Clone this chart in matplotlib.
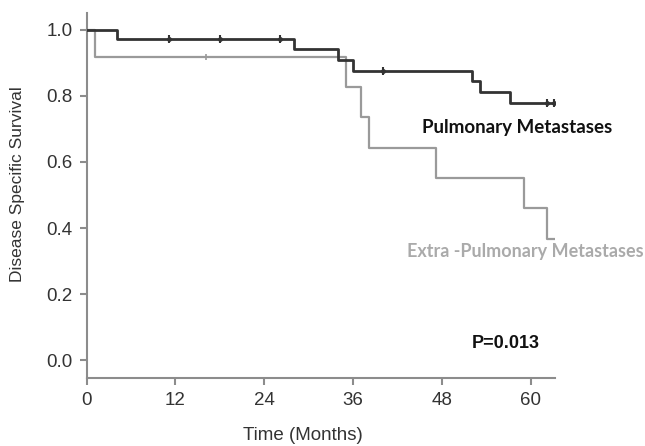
import numpy as np
import matplotlib
matplotlib.use("Agg")
import matplotlib.pyplot as plt

# Kaplan-Meier step data
pulm_times = [0, 4.05, 28.05, 34.0, 36.0, 52.1, 53.1, 57.2, 63.1]
pulm_surv = [1.0, 0.972, 0.942, 0.909, 0.877, 0.845, 0.813, 0.780, 0.780]
pulm_censor = [11.1, 18.0, 26.1, 40.1, 62.2, 63.1]

extra_times = [0, 1.1, 35.0, 37.1, 38.1, 47.2, 59.1, 62.2, 63.3]
extra_surv = [1.0, 0.917, 0.826, 0.735, 0.643, 0.551, 0.460, 0.366, 0.366]
extra_censor = [16.1]

xticks = [0, 12, 24, 36, 48, 60]
yticks = [0.0, 0.2, 0.4, 0.6, 0.8, 1.0]


def step_at(times, surv, t):
    idx = np.searchsorted(times, t, side="right") - 1
    return np.array(surv)[idx]


plt.rcParams['font.family'] = ['Liberation Sans', 'DejaVu Sans']
fig = plt.figure(figsize=(6.45, 4.46), dpi=100)
ax = fig.add_axes([0.1344, 0.1518, 0.7261, 0.8197])

dark = "#333333"
light = "#9a9a9a"

ax.step(pulm_times, pulm_surv, where="post", color=dark, lw=2.0, zorder=3)
ax.step(extra_times, extra_surv, where="post", color=light, lw=1.6, zorder=2)
ax.plot(pulm_censor, step_at(pulm_times, pulm_surv, pulm_censor), ls="none",
        marker="|", ms=6, mew=1.5, color=dark, zorder=4)
ax.plot(pulm_censor, step_at(pulm_times, pulm_surv, pulm_censor), ls="none",
        marker="o", ms=2.5, color=dark, zorder=4)
ax.plot(extra_censor, step_at(extra_times, extra_surv, extra_censor), ls="none",
        marker="|", ms=5, mew=1.2, color=light, zorder=4)

ax.set_xlim(0, 63.3)
ax.set_ylim(-0.055, 1.052)
ax.set_xticks(xticks)
ax.set_xticklabels([str(x) for x in xticks])
ax.set_yticks(yticks)
ax.set_yticklabels([f"{y:.1f}" for y in yticks])

for s in ["top", "right"]:
    ax.spines[s].set_visible(False)
for s in ["left", "bottom"]:
    ax.spines[s].set_color("#8c8c8c")
    ax.spines[s].set_linewidth(1.5)
ax.tick_params(direction="out", length=5, width=1.5, color="#8c8c8c",
               labelsize=13.5, labelcolor="#333333", pad=5)

fig.text(17.5 / 645, 1 - 184 / 446, "Disease Specific Survival", rotation=90,
         fontsize=12.5, color="#333333", ha="center", va="center")
fig.text(303 / 645, 1 - 435 / 446, "Time (Months)",
         fontsize=13.5, color="#333333", ha="center", va="center")

fig.text(517 / 645, 1 - 127.7 / 446, "Pulmonary Metastases",
         fontsize=13.5, fontweight="bold", family=["Lato", "DejaVu Sans"],
         color="#111111", ha="center", va="center")
fig.text(525 / 645, 1 - 251 / 446, "Extra -Pulmonary Metastases",
         fontsize=13, fontweight="bold", family=["Lato", "DejaVu Sans"],
         color="#aaaaaa", ha="center", va="center")
fig.text(505.5 / 645, 1 - 343 / 446, "P=0.013",
         fontsize=13, fontweight="bold", color="#111111", ha="center", va="center")

fig.savefig("out.png", dpi=100)
